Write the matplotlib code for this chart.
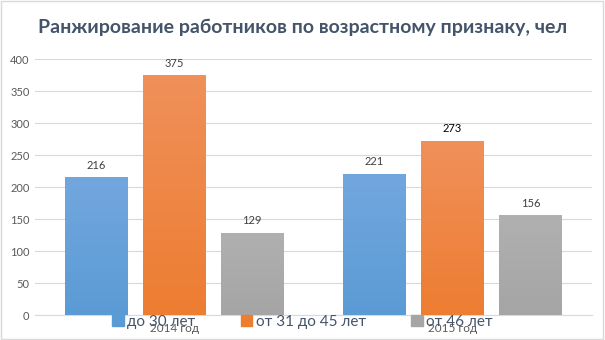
import numpy as np
import matplotlib
matplotlib.use("Agg")
import matplotlib.pyplot as plt
import matplotlib.patches as patches

plt.rcParams['font.family'] = ['Lato', 'DejaVu Sans']

# données
annees = ['2014 год', '2015 год']
groupes = ['до 30 лет', 'от 31 до 45 лет', 'от 46 лет']
valeurs = [[216, 221], [375, 273], [129, 156]]
couleurs = ['#5b9bd5', '#ed7d31', '#a5a5a5']
couleurs_haut = ['#72a7de', '#f0905a', '#b0b0b0']
titre = 'Ранжирование работников по возрастному признаку, чел'
yticks = [0, 50, 100, 150, 200, 250, 300, 350, 400]

fig = plt.figure(figsize=(6.05, 3.40), dpi=100)
ax = fig.add_axes([0.058, 0.0735, 0.92, 0.752])

x = np.arange(len(annees))
largeur = 0.226
ecart = 0.28


def barre_degrade(ax, x0, h, c_bas, c_haut):
    # barre avec un léger dégradé vertical
    bar = ax.bar(x0, h, largeur, color=c_bas, zorder=2)[0]
    grad = np.linspace(0, 1, 100).reshape(-1, 1)
    cmap = matplotlib.colors.LinearSegmentedColormap.from_list('g', [c_bas, c_haut])
    im = ax.imshow(grad, extent=[x0 - largeur / 2, x0 + largeur / 2, 0, h],
                   origin='lower', aspect='auto', cmap=cmap, zorder=3)
    im.set_clip_path(bar)


for i, g in enumerate(groupes):
    pos = x + (i - 1) * ecart
    for j in range(len(annees)):
        barre_degrade(ax, pos[j], valeurs[i][j], couleurs[i], couleurs_haut[i])
        coul_txt = '#000000' if (i == 1 and j == 1) else '#404040'
        ax.text(pos[j], valeurs[i][j] + 10, str(valeurs[i][j]), ha='center', va='bottom',
                fontsize=8, color=coul_txt)

ax.set_xlim(-0.5, 1.5)
ax.set_ylim(0, 400)
ax.set_yticks(yticks)
ax.set_xticks(x)
ax.set_xticklabels(annees)
ax.tick_params(axis='both', length=0, labelsize=8, colors='#595959')
ax.tick_params(axis='x', pad=6, labelsize=8.5)
ax.tick_params(axis='y', pad=4)
ax.grid(axis='y', color='#d9d9d9', linewidth=0.8, zorder=0)
ax.set_axisbelow(True)
for s in ['top', 'right', 'left']:
    ax.spines[s].set_visible(False)
ax.spines['bottom'].set_color('#d9d9d9')

fig.text(0.5, 0.92, titre, ha='center', va='center', fontsize=14,
         fontweight='bold', color='#44546a')

handles = [patches.Patch(color=c) for c in couleurs]
fig.legend(handles, groupes, loc='center', bbox_to_anchor=(0.5, 0.054), ncol=3,
           frameon=False, fontsize=11, labelcolor='#44546a', handlelength=0.75,
           handleheight=0.75, handletextpad=0.2, columnspacing=3.0)

fig.patches.append(patches.Rectangle((0.002, 0.003), 0.995, 0.993, transform=fig.transFigure,
                                     fill=False, edgecolor='#d9d9d9', linewidth=1))

fig.savefig('out.png', dpi=100)
